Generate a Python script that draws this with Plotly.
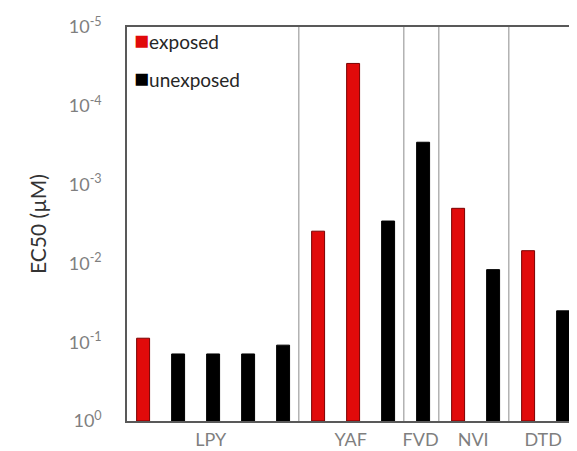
import plotly.graph_objects as go

# ---- data ----
groups = ["LPY", "YAF", "FVD", "NVI", "DTD"]
bar_group = ["LPY", "LPY", "LPY", "LPY", "LPY",
             "YAF", "YAF", "YAF",
             "FVD",
             "NVI", "NVI",
             "DTD", "DTD"]
bar_status = ["exposed", "unexposed", "unexposed", "unexposed", "unexposed",
              "exposed", "exposed", "unexposed",
              "unexposed",
              "exposed", "unexposed",
              "exposed", "unexposed"]
ec50 = [0.089, 0.141, 0.141, 0.141, 0.109,
        0.0039, 2.9e-5, 0.0029,
        2.9e-4,
        0.0020, 0.012,
        0.0069, 0.040]
y_tickvals = [1, 1e-1, 1e-2, 1e-3, 1e-4, 1e-5]
y_ticktext = ["10<sup>0</sup>", "10<sup>-1</sup>", "10<sup>-2</sup>",
              "10<sup>-3</sup>", "10<sup>-4</sup>", "10<sup>-5</sup>"]
series = ["exposed", "unexposed"]

colors = {"exposed": "#e10a0a", "unexposed": "#000000"}
edge = {"exposed": "#7a0000", "unexposed": "#000000"}
BASE = 1.0  # bars grow from 10^0

idx = list(range(len(ec50)))

fig = go.Figure()
for status in series:
    xs = [i for i in idx if bar_status[i] == status]
    vals = [ec50[i] for i in xs]
    fig.add_trace(go.Bar(
        x=xs, y=[v - BASE for v in vals], base=BASE, name=status,
        width=0.37, customdata=vals,
        hovertemplate="%{customdata:.2e}<extra>" + status + "</extra>",
        marker=dict(color=colors[status], line=dict(color=edge[status], width=1)),
        showlegend=False,
    ))

# group centers and separators from data
centers = []
seps = []
for gi, g in enumerate(groups):
    members = [i for i in idx if bar_group[i] == g]
    centers.append(sum(members) / len(members) - 0.07)
    if gi < len(groups) - 1:
        seps.append(members[-1] + 0.45)

shapes = []
for s in seps:
    shapes.append(dict(type="line", xref="x", yref="paper", x0=s, x1=s, y0=0, y1=1,
                       line=dict(color="#8c8c8c", width=1)))

# legend as text with coloured squares
annotations = []
for k, status in enumerate(series):
    annotations.append(dict(
        xref="paper", yref="paper", x=0.010, y=0.970 - k * 0.096,
        xanchor="left", yanchor="middle", showarrow=False,
        text="<span style='color:%s;font-size:25px'>■</span>%s" % (colors[status], status),
        font=dict(size=19, color="#262626"),
    ))

fig.update_layout(
    width=577, height=451,
    margin=dict(l=119, r=3, t=19, b=38),
    paper_bgcolor="white", plot_bgcolor="white",
    font=dict(family="Lato, Open Sans, sans-serif", size=18, color="#7f7f7f"),
    barmode="overlay",
    showlegend=False,
    shapes=shapes,
    annotations=annotations,
)
fig.update_xaxes(
    range=[-0.46, 12.54], tickvals=centers, ticktext=groups,
    showgrid=False, zeroline=False, showline=True, mirror=True,
    linecolor="#595959", linewidth=1.5, ticks="outside", ticklen=2,
    tickcolor="rgba(0,0,0,0)", automargin=False,
    tickfont=dict(size=18, color="#7f7f7f"),
)
fig.update_yaxes(
    type="log", range=[0, -5],
    tickvals=y_tickvals, ticktext=y_ticktext,
    showgrid=False, zeroline=False, showline=True, mirror=True,
    linecolor="#595959", linewidth=1.5,
    ticks="outside", ticklen=20, tickcolor="rgba(0,0,0,0)", automargin=False,
    tickfont=dict(size=18, color="#7f7f7f"),
    title=dict(text="EC50 (µM)", font=dict(size=21, color="#333333"), standoff=16),
)

fig.write_html("out.html")
